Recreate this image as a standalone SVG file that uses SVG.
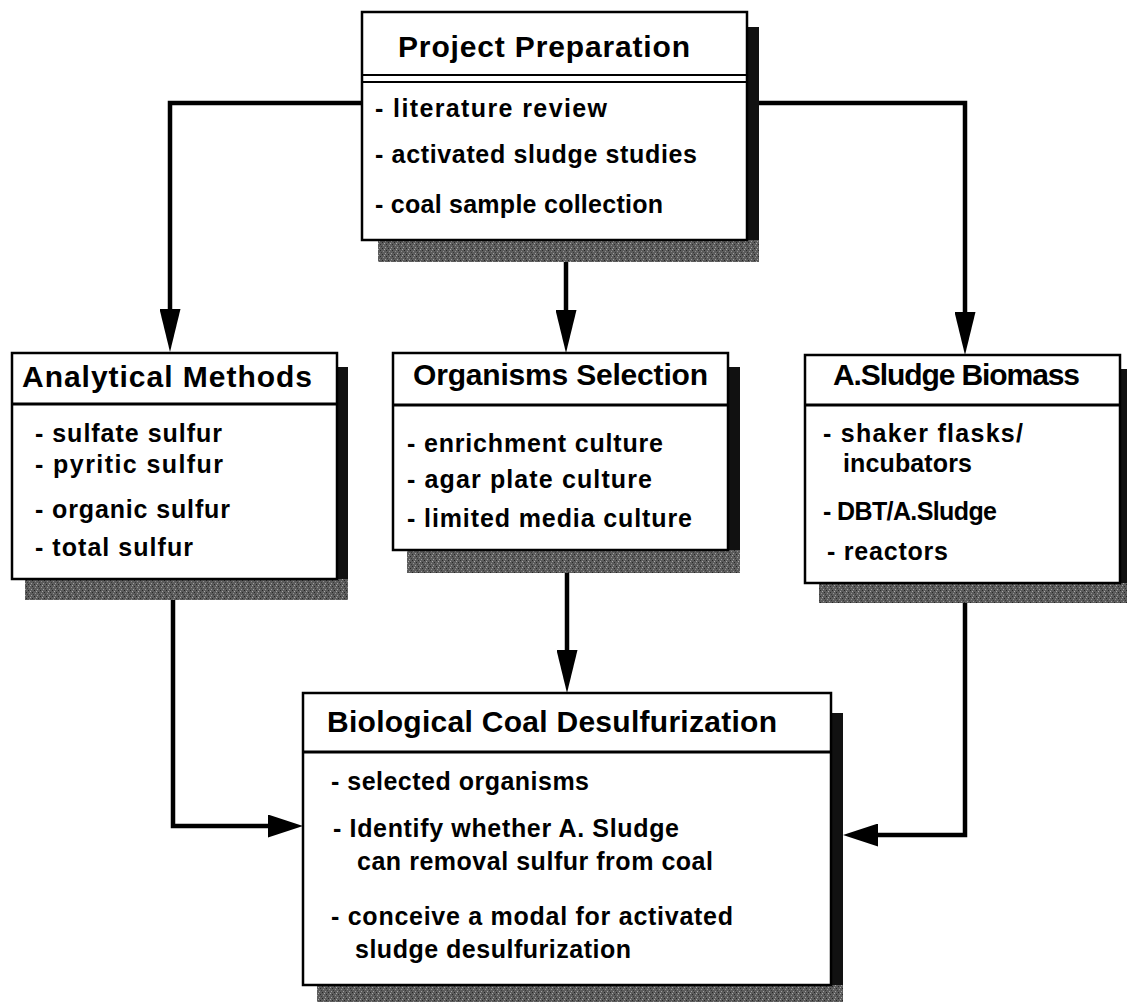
<svg xmlns="http://www.w3.org/2000/svg" width="1127" height="1002" viewBox="0 0 1127 1002">
<style>
.box{fill:#fff;stroke:#000;stroke-width:2.5}
.shR{fill:#111}
.shB{fill:url(#stip)}
.sep{stroke:#000;stroke-width:3;fill:none}
.sep2{stroke:#000;stroke-width:2;fill:none}
.title{font-family:"Liberation Sans",Arial,sans-serif;font-weight:bold;font-size:30px;fill:#000}
.item{font-family:"Liberation Sans",Arial,sans-serif;font-weight:bold;font-size:25px;fill:#000}
.conn{fill:none;stroke:#000;stroke-width:4.5;stroke-linejoin:miter}
.cv{marker-end:url(#arrV)}
.ch{marker-end:url(#arrH)}
</style>
<defs>
<pattern id="stip" width="6" height="6" patternUnits="userSpaceOnUse">
<rect width="6" height="6" fill="#5c5c5c"/>
<rect x="1" y="1" width="1" height="1" fill="#a0a0a0"/>
<rect x="4" y="2" width="1" height="1" fill="#262626"/>
<rect x="2" y="4" width="1" height="1" fill="#2a2a2a"/>
<rect x="5" y="5" width="1" height="1" fill="#909090"/>
<rect x="3" y="0" width="1" height="1" fill="#3a3a3a"/>
<rect x="0" y="3" width="1" height="1" fill="#a8a8a8"/>
</pattern>
<marker id="arrV" markerUnits="userSpaceOnUse" viewBox="0 0 43 21" markerWidth="43" markerHeight="21" refX="1" refY="10.5" orient="auto">
<path d="M0,0 L43,10.5 L0,21 Z" fill="#000"/>
</marker>
<marker id="arrH" markerUnits="userSpaceOnUse" viewBox="0 0 35 23" markerWidth="35" markerHeight="23" refX="1" refY="11.5" orient="auto">
<path d="M0,0 L35,11.5 L0,23 Z" fill="#000"/>
</marker>
</defs>

<g id="connectors">
<path class="conn cv" d="M362,103 H170 V310"/>
<path class="conn cv" d="M566,262 V311"/>
<path class="conn cv" d="M747,103 H965 V313"/>
<path class="conn cv" d="M567,573 V651"/>
<path class="conn ch" d="M173,600 V826 H269"/>
<path class="conn ch" d="M965,603 V835 H877"/>
</g>

<g id="project-preparation">
<rect class="shR" x="747" y="27" width="12" height="235"/>
<rect class="shB" x="378" y="240" width="381" height="22"/>
<rect class="box" x="362" y="12" width="385" height="228"/>
<line class="sep2" x1="362" y1="75" x2="747" y2="75"/>
<line class="sep2" x1="362" y1="82" x2="747" y2="82"/>
<text class="title" x="398" y="57" textLength="292" lengthAdjust="spacing">Project Preparation</text>
<text class="item" x="375" y="117" textLength="232" lengthAdjust="spacing">- literature review</text>
<text class="item" x="375" y="163" textLength="322" lengthAdjust="spacing">- activated sludge studies</text>
<text class="item" x="375" y="213" textLength="288" lengthAdjust="spacing">- coal sample collection</text>
</g>

<g id="analytical-methods">
<rect class="shR" x="337" y="367" width="11" height="233"/>
<rect class="shB" x="25" y="579" width="323" height="21"/>
<rect class="box" x="12" y="353" width="325" height="226"/>
<line class="sep" x1="12" y1="404" x2="337" y2="404"/>
<text class="title" x="22" y="387" textLength="290" lengthAdjust="spacing">Analytical Methods</text>
<text class="item" x="35" y="442" textLength="187" lengthAdjust="spacing">- sulfate sulfur</text>
<text class="item" x="35" y="473" textLength="188" lengthAdjust="spacing">- pyritic sulfur</text>
<text class="item" x="35" y="518" textLength="195" lengthAdjust="spacing">- organic sulfur</text>
<text class="item" x="35" y="556" textLength="158" lengthAdjust="spacing">- total sulfur</text>
</g>

<g id="organisms-selection">
<rect class="shR" x="728" y="367" width="12" height="206"/>
<rect class="shB" x="407" y="550" width="333" height="23"/>
<rect class="box" x="393" y="353" width="335" height="197"/>
<line class="sep" x1="393" y1="405" x2="728" y2="405"/>
<text class="title" x="413" y="385" textLength="295" lengthAdjust="spacing">Organisms Selection</text>
<text class="item" x="407" y="452" textLength="256" lengthAdjust="spacing">- enrichment culture</text>
<text class="item" x="407" y="488" textLength="245" lengthAdjust="spacing">- agar plate culture</text>
<text class="item" x="407" y="527" textLength="285" lengthAdjust="spacing">- limited media culture</text>
</g>

<g id="a-sludge-biomass">
<rect class="shR" x="1120" y="369" width="12" height="234"/>
<rect class="shB" x="819" y="583" width="313" height="20"/>
<rect class="box" x="805" y="355" width="315" height="228"/>
<line class="sep" x1="805" y1="405" x2="1120" y2="405"/>
<text class="title" x="833" y="385" textLength="247" lengthAdjust="spacing">A.Sludge Biomass</text>
<text class="item" x="823" y="442" textLength="200" lengthAdjust="spacing">- shaker flasks/</text>
<text class="item" x="843" y="472" textLength="129" lengthAdjust="spacing">incubators</text>
<text class="item" x="823" y="520" textLength="174" lengthAdjust="spacing">- DBT/A.Sludge</text>
<text class="item" x="827" y="560" textLength="121" lengthAdjust="spacing">- reactors</text>
</g>

<g id="biological-coal-desulfurization">
<rect class="shR" x="831" y="713" width="12" height="289"/>
<rect class="shB" x="317" y="985" width="526" height="17"/>
<rect class="box" x="303" y="693" width="528" height="292"/>
<line class="sep" x1="303" y1="752" x2="831" y2="752"/>
<text class="title" x="327" y="732" textLength="450" lengthAdjust="spacing">Biological Coal Desulfurization</text>
<text class="item" x="331" y="790" textLength="258" lengthAdjust="spacing">- selected organisms</text>
<text class="item" x="333" y="837" textLength="346" lengthAdjust="spacing">- Identify whether A. Sludge</text>
<text class="item" x="357" y="870" textLength="356" lengthAdjust="spacing">can removal sulfur from coal</text>
<text class="item" x="331" y="925" textLength="402" lengthAdjust="spacing">- conceive a modal for activated</text>
<text class="item" x="355" y="958" textLength="276" lengthAdjust="spacing">sludge desulfurization</text>
</g>
</svg>
